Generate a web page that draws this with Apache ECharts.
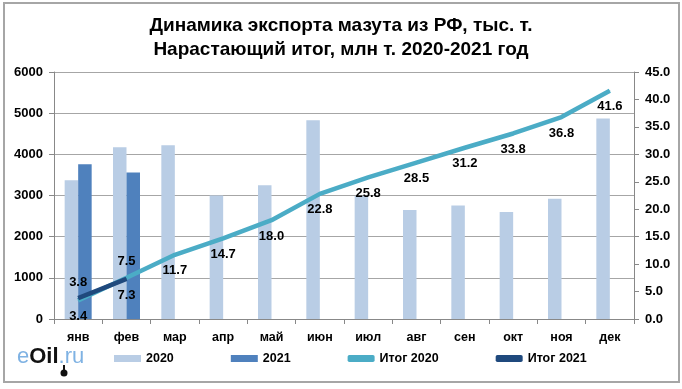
<!DOCTYPE html>
<html><head><meta charset="utf-8">
<script src="https://cdn.jsdelivr.net/npm/echarts@6/dist/echarts.min.js"></script>
<style>html,body{margin:0;padding:0;background:#fff}#c{width:682px;height:389px}</style>
</head><body><div id="c"></div>
<script>
const months = ['янв','фев','мар','апр','май','июн','июл','авг','сен','окт','ноя','дек'];
const export2020 = [3370, 4170, 4220, 3000, 3250, 4830, 2990, 2650, 2760, 2600, 2920, 4870];
const export2021 = [3760, 3560, null, null, null, null, null, null, null, null, null, null];
const total2020 = [3.4, 7.5, 11.7, 14.7, 18.0, 22.8, 25.8, 28.5, 31.2, 33.8, 36.8, 41.6];
const total2021 = [3.8, 7.3];
const total2020LabelPos = ['bottom','top','bottom','bottom','bottom','bottom','bottom','bottom','bottom','bottom','bottom','bottom'];
const total2021LabelPos = ['top','bottom'];
const leftTicks = {min: 0, max: 6000, interval: 1000};
const rightTicks = {min: 0, max: 45, interval: 5};

const FONT = 'Liberation Sans, Arial, sans-serif';
const chart = echarts.init(document.getElementById('c'));
const lblStyle = {color:'#000', fontSize:13, fontWeight:'bold', fontFamily:FONT, distance:9};
chart.setOption({
  animation:false,
  title:{text:'Динамика экспорта мазута из РФ, тыс. т.\nНарастающий итог, млн т. 2020-2021 год',
    left:'center', top:9,
    textStyle:{fontSize:19, fontWeight:'bold', fontFamily:FONT, color:'#000', lineHeight:24}},
  graphic:[
    {type:'rect', shape:{x:4,y:3,width:675,height:379}, style:{fill:null, stroke:'#a6a6a6', lineWidth:2}, z:-1},
    {type:'text', left:17, top:346, style:{rich:{a:{fill:'#7fb2e3',fontSize:22,fontFamily:FONT},b:{fill:'#111',fontSize:22,fontFamily:FONT,fontWeight:'bold'}}, text:'{a|e}{b|Oil}{a|.ru}'}},
    {type:'circle', shape:{cx:64, cy:373, r:3.5}, style:{fill:'#111'}},
    {type:'rect', shape:{x:63, y:365, width:2, height:6}, style:{fill:'#111'}}
  ],
  grid:{left:54, right:48, top:72, bottom:70},
  legend:{left:109, top:347, itemGap:57, itemWidth:27, itemHeight:7,
    textStyle:{fontSize:12.5, fontFamily:FONT, color:'#000', fontWeight:'bold'},
    data:[{name:'2020',icon:'rect'},{name:'2021',icon:'rect'},{name:'Итог 2020',icon:'roundRect'},{name:'Итог 2021',icon:'roundRect'}]},
  xAxis:{type:'category', data:months,
    axisLine:{lineStyle:{color:'#888'}}, axisTick:{show:true, length:5, lineStyle:{color:'#888'}},
    axisLabel:{color:'#000', fontSize:12.5, fontWeight:'bold', fontFamily:FONT, margin:12}},
  yAxis:[
    {type:'value', min:leftTicks.min, max:leftTicks.max, interval:leftTicks.interval,
      axisLine:{show:true, lineStyle:{color:'#888'}}, axisTick:{show:true, length:5, lineStyle:{color:'#888'}},
      splitLine:{lineStyle:{color:'#a6a6a6'}},
      axisLabel:{color:'#000', fontSize:13, fontWeight:'bold', fontFamily:FONT, margin:11, formatter:v=>String(v)}},
    {type:'value', min:rightTicks.min, max:rightTicks.max, interval:rightTicks.interval,
      axisLine:{show:true, lineStyle:{color:'#888'}}, axisTick:{show:true, length:5, lineStyle:{color:'#888'}},
      splitLine:{show:false},
      axisLabel:{color:'#000', fontSize:13, fontWeight:'bold', fontFamily:FONT, margin:11, formatter:v=>v.toFixed(1)}}
  ],
  series:[
    {name:'2020', type:'bar', data:export2020, barWidth:13.5, barGap:'0%', itemStyle:{color:'#b9cde5'}},
    {name:'2021', type:'bar', data:export2021, barWidth:13.5, barGap:'0%', itemStyle:{color:'#4f81bd'}},
    {name:'Итог 2020', type:'line', yAxisIndex:1, symbol:'circle', symbolSize:1, showSymbol:true, z:5,
      lineStyle:{width:4.5, color:'#4bacc6'}, itemStyle:{color:'#4bacc6'},
      data: total2020.map((v,i)=>({value:v, label:{position:total2020LabelPos[i]}})),
      label:Object.assign({show:true, formatter:p=>Number(p.value).toFixed(1)}, lblStyle)},
    {name:'Итог 2021', type:'line', yAxisIndex:1, symbol:'circle', symbolSize:1, showSymbol:true, z:6,
      lineStyle:{width:4.5, color:'#1f497d'}, itemStyle:{color:'#1f497d'},
      data: total2021.map((v,i)=>({value:v, label:{position:total2021LabelPos[i]}})),
      label:Object.assign({show:true, formatter:p=>Number(p.value).toFixed(1)}, lblStyle)}
  ]
});
</script></body></html>
